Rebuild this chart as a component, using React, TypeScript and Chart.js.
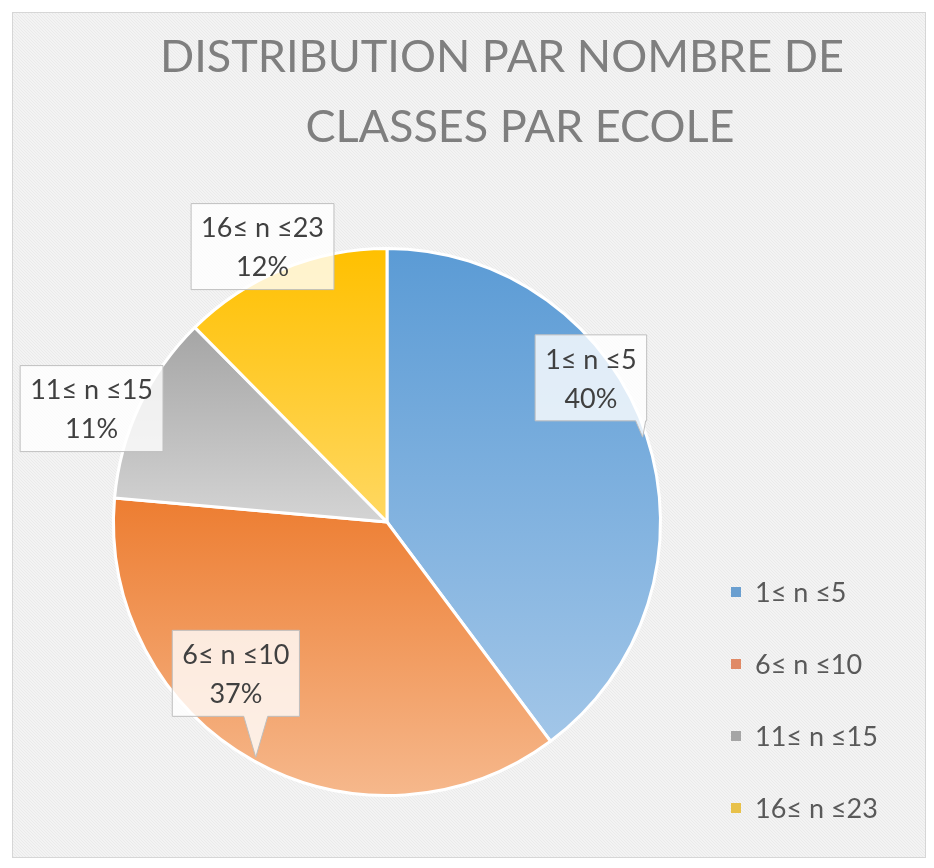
import React, { useEffect, useRef } from "react";
import { Chart, registerables } from "chart.js";

Chart.register(...registerables);

// ---- data ----
const titleLines = ["DISTRIBUTION PAR NOMBRE DE", "CLASSES PAR ECOLE"];
const categories = ["1≤ n ≤5", "6≤ n ≤10", "11≤ n ≤15", "16≤ n ≤23"];
const shares = [39.8, 36.6, 11.2, 12.4];
const topColors = ["#5B9BD5", "#ED7D31", "#A5A5A5", "#FFC000"];
const bottomColors = ["#A2C6E8", "#F6B88C", "#D4D4D4", "#FFD862"];
const legendColors = ["#6A9FD0", "#E08A66", "#A5A5A5", "#E8C14A"];

// label placement relative to each slice's mid angle (degrees, radius factor)
const labelShift = [
  { dAng: -16.9, rf: 0.913 },
  { dAng: 15.8, rf: 0.782 },
  { dAng: -4.2, rf: 1.157 },
  { dAng: -2.0, rf: 1.105 },
];

const FONT = "Lato, 'Open Sans', 'DejaVu Sans', sans-serif";

function makePattern(ctx: CanvasRenderingContext2D) {
  const c = document.createElement("canvas");
  c.width = 6;
  c.height = 6;
  const p = c.getContext("2d")!;
  p.fillStyle = "#f3f3f3";
  p.fillRect(0, 0, 6, 6);
  p.fillStyle = "#eaeaea";
  for (let i = 0; i < 6; i++) {
    p.fillRect(i, i, 1, 1);
    p.fillRect((i + 3) % 6, i, 1, 1);
  }
  return ctx.createPattern(c, "repeat");
}

const backgroundPlugin = {
  id: "bgFrame",
  beforeDraw(chart: any) {
    const ctx: CanvasRenderingContext2D = chart.ctx;
    ctx.save();
    ctx.fillStyle = "#ffffff";
    ctx.fillRect(0, 0, chart.width, chart.height);
    const pat = makePattern(ctx);
    ctx.fillStyle = (pat as any) || "#f1f1f1";
    ctx.fillRect(12, 12, 914, 846);
    ctx.strokeStyle = "#d6d6d6";
    ctx.lineWidth = 1;
    ctx.strokeRect(12.5, 12.5, 913, 845);
    // title
    ctx.fillStyle = "#7f7f7f";
    ctx.font = `400 45px ${FONT}`;
    ctx.textAlign = "center";
    ctx.textBaseline = "alphabetic";
    ctx.fillText(titleLines[0], 502, 72);
    ctx.fillText(titleLines[1], 520, 142);
    ctx.restore();
  },
};

const gradientPlugin = {
  id: "sliceGradient",
  beforeDatasetsDraw(chart: any) {
    const ctx: CanvasRenderingContext2D = chart.ctx;
    const meta = chart.getDatasetMeta(0);
    meta.data.forEach((el: any, i: number) => {
      const p = el.getProps(["x", "y", "startAngle", "endAngle", "outerRadius"], true);
      let minY = p.y;
      let maxY = p.y;
      for (let k = 0; k <= 80; k++) {
        const a = p.startAngle + ((p.endAngle - p.startAngle) * k) / 80;
        const yy = p.y + Math.sin(a) * p.outerRadius;
        minY = Math.min(minY, yy);
        maxY = Math.max(maxY, yy);
      }
      const g = ctx.createLinearGradient(0, minY, 0, maxY);
      g.addColorStop(0, topColors[i]);
      g.addColorStop(1, bottomColors[i]);
      el.options = Object.assign({}, el.options, { backgroundColor: g });
    });
  },
};

const labelPlugin = {
  id: "calloutLabels",
  afterDatasetsDraw(chart: any) {
    const ctx: CanvasRenderingContext2D = chart.ctx;
    const meta = chart.getDatasetMeta(0);
    const total = shares.reduce((a, b) => a + b, 0);
    ctx.save();
    ctx.font = `400 27px ${FONT}`;
    meta.data.forEach((el: any, i: number) => {
      const p = el.getProps(["x", "y", "startAngle", "endAngle", "outerRadius"], true);
      const R = p.outerRadius;
      const mid = (p.startAngle + p.endAngle) / 2;
      const tipX = p.x + Math.cos(mid) * R * 0.985;
      const tipY = p.y + Math.sin(mid) * R * 0.985;
      const la = mid + (labelShift[i].dAng * Math.PI) / 180;
      const cx = p.x + Math.cos(la) * R * labelShift[i].rf;
      const cy = p.y + Math.sin(la) * R * labelShift[i].rf;
      const line1 = categories[i];
      const line2 = Math.round((shares[i] / total) * 100) + "%";
      const w = Math.max(ctx.measureText(line1).width, ctx.measureText(line2).width) + 20;
      const h = 86;
      const L = cx - w / 2, Rt = cx + w / 2, T = cy - h / 2, B = cy + h / 2;
      ctx.beginPath();
      ctx.moveTo(L, T);
      ctx.lineTo(Rt, T);
      ctx.lineTo(Rt, B);
      if (tipY > B + 2) {
        const nearEdge = tipX > Rt - 20 || tipX < L + 20;
        const half = nearEdge ? 5 : 12;
        const bx = Math.min(Math.max(tipX, L + half + 1), Rt - half - 1);
        ctx.lineTo(bx + half, B);
        ctx.lineTo(tipX, tipY);
        ctx.lineTo(bx - half, B);
      }
      ctx.lineTo(L, B);
      ctx.closePath();
      ctx.fillStyle = "rgba(255,255,255,0.8)";
      ctx.fill();
      ctx.strokeStyle = "#bfbfbf";
      ctx.lineWidth = 1;
      ctx.stroke();
      ctx.fillStyle = "#404040";
      ctx.textAlign = "center";
      ctx.textBaseline = "middle";
      ctx.fillText(line1, cx, cy - 18);
      ctx.fillText(line2, cx, cy + 21);
    });
    ctx.restore();
  },
  afterDraw(chart: any) {
    const ctx: CanvasRenderingContext2D = chart.ctx;
    ctx.save();
    ctx.font = `400 27px ${FONT}`;
    ctx.textAlign = "left";
    ctx.textBaseline = "middle";
    categories.forEach((c, i) => {
      const y = 592 + i * 72;
      ctx.fillStyle = legendColors[i];
      ctx.fillRect(731, y - 5, 10, 10);
      ctx.fillStyle = "#595959";
      ctx.fillText(c, 755, y + 1);
    });
    ctx.restore();
  },
};

export default function App() {
  const ref = useRef<HTMLCanvasElement>(null);
  useEffect(() => {
    if (!ref.current) return;
    const chart = new Chart(ref.current, {
      type: "pie",
      data: {
        labels: categories,
        datasets: [
          {
            data: shares,
            backgroundColor: topColors,
            borderColor: "#ffffff",
            borderWidth: 3,
            hoverOffset: 0,
          },
        ],
      },
      options: {
        responsive: false,
        animation: false,
        events: [],
        layout: { padding: { left: 112, right: 272, top: 247, bottom: 71 } },
        plugins: {
          legend: { display: false },
          title: { display: false },
          tooltip: { enabled: false },
        },
      },
      plugins: [backgroundPlugin, gradientPlugin, labelPlugin],
    });
    const fonts: any = (document as any).fonts;
    if (fonts && fonts.load) {
      Promise.all([fonts.load(`27px Lato`), fonts.load(`45px Lato`)]).then(() => chart.draw()).catch(() => {});
    }
    return () => chart.destroy();
  }, []);
  return (
    <div style={{ position: "absolute", left: 0, top: 0, width: 934, height: 868 }}>
      <canvas ref={ref} width={934} height={868} style={{ display: "block" }} />
    </div>
  );
}
